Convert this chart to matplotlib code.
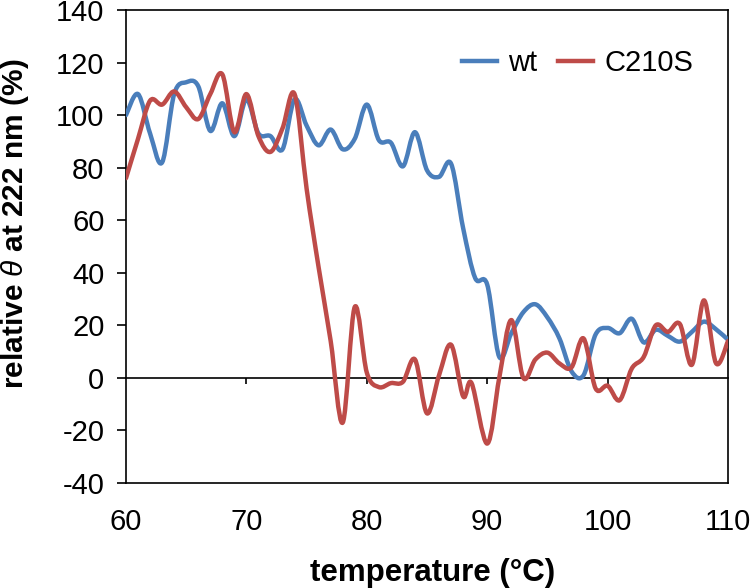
import matplotlib
matplotlib.use('Agg')
import matplotlib.pyplot as plt
from matplotlib.path import Path
from matplotlib.patches import PathPatch
from matplotlib.lines import Line2D
import numpy as np

plt.rcParams['font.family'] = 'Liberation Sans'
plt.rcParams['mathtext.fontset'] = 'custom'
plt.rcParams['mathtext.rm'] = 'Liberation Sans'
plt.rcParams['mathtext.it'] = 'Liberation Sans:italic'
plt.rcParams['mathtext.bf'] = 'Liberation Sans:bold'
plt.rcParams['axes.unicode_minus'] = False

# wild type, readings every 1 degree C
temp_wt = list(range(60, 111))
theta_wt = [100, 108, 93, 82, 108, 112.5, 111, 94, 104.5, 92,
            106, 93, 92, 87, 106, 96, 88.5, 94.5, 87, 91,
            104, 90.5, 89.5, 80.5, 93.5, 79, 76.5, 81.5, 57, 38,
            35.5, 8, 17, 25, 28, 23, 15, 2.5, 1, 16.5,
            19, 17, 22.5, 13.5, 18.3, 16, 13.8, 17.5, 21.4, 18.5,
            14.5]

# C210S mutant
temp_mut = [60, 61, 62, 63, 64, 65, 66, 67, 68, 69,
            70, 71, 72, 73, 74, 75, 76, 77, 78, 79,
            80, 81, 82, 83, 84, 85, 86, 87, 88, 88.7,
            90, 91, 92, 93, 94, 95, 96, 97, 98, 99,
            100, 101, 102, 103, 104, 105, 106, 107, 108, 109,
            110]
theta_mut = [76, 91, 105.5, 104, 109, 103, 98.5, 108, 115.5, 93.5,
             108, 92, 86, 95, 108, 72, 42, 14, -17, 27,
             2, -3.5, -2, -1.5, 7, -13.5, 1, 12.6, -7, -2,
             -25, 0, 22, 0, 7, 9.6, 5.5, 4, 15, -4,
             -3, -8.5, 3.5, 8, 20, 17.5, 20.5, 5, 29.5, 5.6,
             14]

blue = '#4A7EBB'
red = '#BE4B48'
fs = 21


def smooth_path(xs, ys):
    # bezier smoothing like the spreadsheet "smoothed line"
    x = np.asarray(xs, float)
    y = np.asarray(ys, float)
    n = len(x)
    verts = [(x[0], y[0])]
    codes = [Path.MOVETO]
    for i in range(n - 1):
        i0 = max(i - 1, 0)
        i3 = min(i + 2, n - 1)
        c1 = (x[i] + (x[i + 1] - x[i0]) / 6, y[i] + (y[i + 1] - y[i0]) / 6)
        c2 = (x[i + 1] - (x[i3] - x[i]) / 6, y[i + 1] - (y[i3] - y[i]) / 6)
        verts += [c1, c2, (x[i + 1], y[i + 1])]
        codes += [Path.CURVE4] * 3
    return Path(verts, codes)


fig = plt.figure(figsize=(7.5, 5.88), dpi=100)
ax = fig.add_axes([0.168, 0.1786, 0.8027, 0.8044])

ymin, ymax = -40, 140
ax.set_xlim(60, 110)
ax.set_ylim(ymin, ymax)

for xs, ys, c in [(temp_wt, theta_wt, blue), (temp_mut, theta_mut, red)]:
    ax.add_patch(PathPatch(smooth_path(xs, ys), facecolor='none', edgecolor=c,
                           lw=3.2, capstyle='round', joinstyle='round', zorder=3))

for s in ax.spines.values():
    s.set_linewidth(1.2)
    s.set_color('black')

ax.set_yticks(np.arange(-40, 141, 20))
ax.set_xticks(np.arange(60, 111, 10))
ax.tick_params(axis='y', direction='out', length=6.5, width=1.2, pad=9, labelsize=fs)
ax.tick_params(axis='x', length=0, pad=18, labelsize=fs)

# axis line crossing at zero with its tick marks
zero = ax.secondary_xaxis((0 - ymin) / (ymax - ymin))
zero.set_xticks([70, 80, 90, 100])
zero.tick_params(direction='out', length=4.5, width=1.2, labelbottom=False)
zero.spines['bottom'].set_linewidth(1.2)
zero.spines['bottom'].set_color('black')

ax.set_xlabel('temperature (°C)', fontsize=22.5, fontweight='bold')
ax.xaxis.set_label_coords(0.51, -0.19)
ax.xaxis.label.set_va('center')
ax.set_ylabel(r'relative $\theta$ at 222 nm (%)', fontsize=21.5, fontweight='bold')
ax.yaxis.set_label_coords(-0.185, 0.549)
ax.yaxis.label.set_va('center')

handles = [Line2D([], [], color=blue, lw=3.2), Line2D([], [], color=red, lw=3.2)]
ax.legend(handles, ['wt', 'C210S'], loc='center', bbox_to_anchor=(0.75, 0.888),
          ncol=2, frameon=False, fontsize=fs, handlelength=1.2,
          handletextpad=0.4, columnspacing=0.7)

fig.savefig('out.png', dpi=100)
